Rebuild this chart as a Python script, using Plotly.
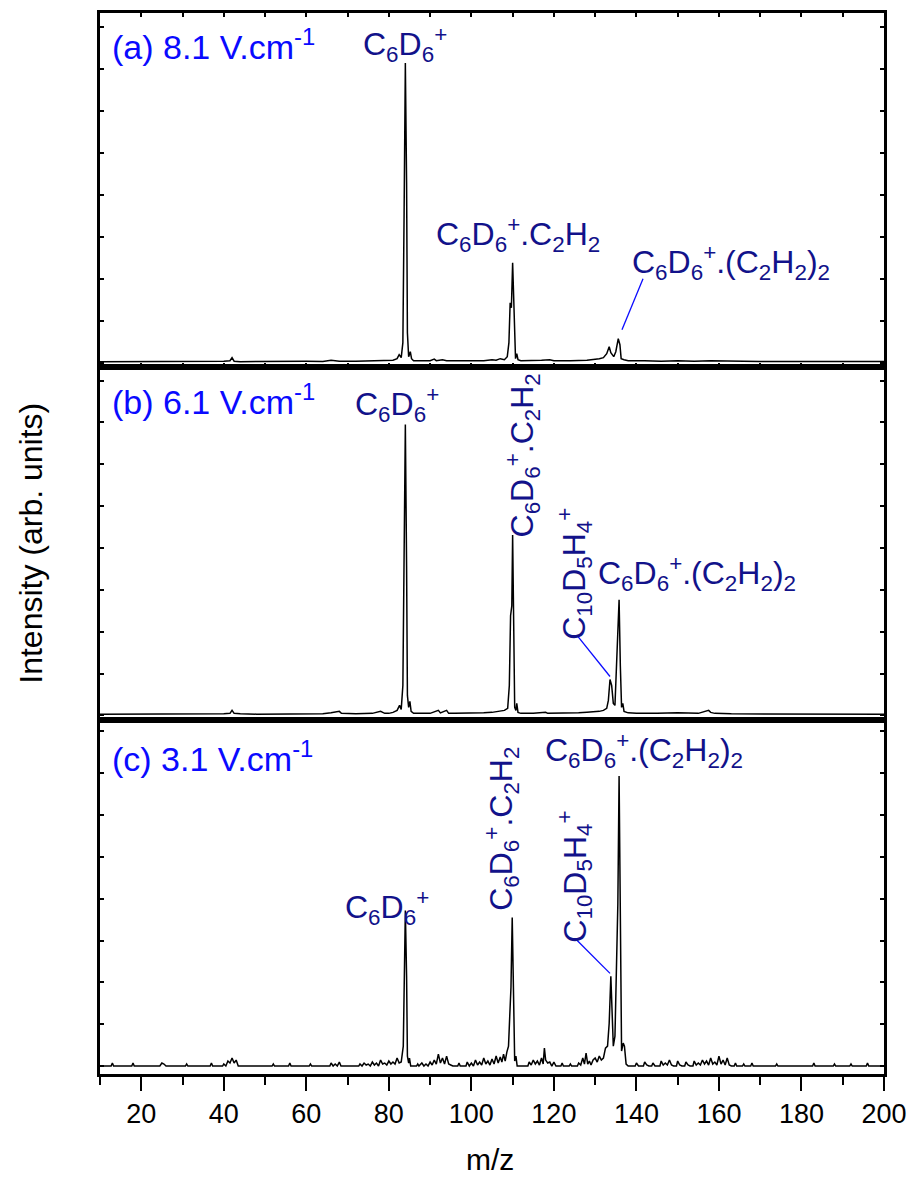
import plotly.graph_objects as go

# ---- spectra: m/z and intensity (arb. units) for the three field strengths ----
mz_a = [10, 14, 18, 22, 26, 30, 34, 38, 40, 41.5, 42, 42.5, 44, 48, 52, 56, 60, 64, 66, 67, 68,
        72, 76, 79, 81, 82, 82.5, 83, 83.4, 83.7, 84, 84.3, 84.5, 84.8, 85.2, 85.5, 86, 88, 90,
        91, 91.5, 93, 94, 96, 100, 103, 105, 106, 107, 108, 108.7, 109.1, 109.4, 109.7, 110,
        110.3, 110.5, 110.7, 111, 111.3, 112, 115, 117, 119, 120, 124, 128, 131, 132, 132.8,
        133.4, 133.8, 134.5, 135, 135.6, 136, 136.3, 137, 138, 142, 146, 150, 154, 158, 162,
        166, 170, 175, 180, 185, 190, 195, 200]
int_a = [1, 1, 1.2, 1, 1, 1.2, 1, 1.2, 1.5, 2, 5, 1.5, 1, 1.2, 1, 1.2, 1.3, 1.2, 2.5, 2, 1.5,
         1.5, 1.8, 2, 2.5, 4, 8, 5, 20, 150, 300, 180, 30, 6, 11, 4, 2, 1.8, 2,
         3.5, 2, 3, 2, 2, 1.8, 2, 3, 2.5, 4, 3, 6, 20, 60, 55, 100,
         60, 10, 4, 9, 3, 2, 2, 2.5, 3, 2, 2, 2.5, 4, 5, 9,
         16, 10, 6, 11, 24, 18, 4, 3, 2, 2, 1.5, 2, 1.5, 2, 1.5,
         1.5, 1.2, 1.2, 1.2, 1.2, 1.2, 1.2, 1.2]

mz_b = [10, 14, 18, 22, 26, 30, 34, 38, 40, 41.5, 42, 42.5, 44, 48, 52, 56, 60, 64, 66, 67, 68,
        68.5, 72, 76, 78, 79, 80, 81, 82, 82.6, 83, 83.4, 83.7, 84, 84.3, 84.5, 84.8, 85.1, 85.4,
        86, 88, 90, 92, 92.5, 94, 94.5, 96, 100, 103, 105, 107, 108, 108.8, 109.2, 109.5, 109.8,
        110, 110.3, 110.5, 110.8, 111, 111.3, 112, 115, 118, 118.5, 122, 126, 128, 130, 131,
        132, 132.8, 133.2, 133.6, 134, 134.4, 134.8, 135.2, 135.5, 135.8, 136.1, 136.4, 136.7,
        137, 138, 140, 145, 150, 155, 157.5, 158, 159, 163, 168, 172, 178, 185, 190, 195, 200]
int_b = [1, 1, 1.2, 1, 1, 1, 1.2, 1, 1.5, 2, 5, 2, 1.5, 1.2, 1.2, 1, 1.2, 1.5, 2.5, 3, 4,
         2, 1.5, 2, 4, 2, 2, 3, 5, 10, 6, 30, 200, 292, 150, 20, 8, 14, 4,
         2, 2, 2, 5, 2.5, 5, 2, 2, 2, 2.5, 3, 4, 5, 7, 30, 100, 110,
         181, 70, 8, 5, 12, 3, 2, 2, 3, 2, 2, 2.5, 3, 3.5, 4,
         5, 7, 15, 36, 30, 12, 10, 60, 86, 116, 50, 8, 12,
         4, 2.5, 2, 2, 2.5, 2, 5, 3, 2, 1.5, 1.5, 1.2, 1.2, 1.2, 1, 1, 1]

mz_c = [10, 12.7, 13, 13.3, 17.7, 18, 18.3, 24.5, 25, 25.5, 26, 30.7, 31, 31.3, 36.7, 37, 37.3,
        39.7, 40, 40.5, 41, 41.5, 42, 42.5, 43, 43.5, 51.7, 52, 52.3, 55.7, 56, 56.3, 60.7, 61,
        61.3, 65.7, 66, 66.5, 67, 67.5, 68, 68.4, 72.7, 73, 73.5, 74, 74.5, 75, 75.5, 76, 76.5,
        77, 77.5, 78, 78.5, 79, 79.5, 80, 80.5, 81, 81.5, 82, 82.5, 83, 83.5, 83.8, 84, 84.3,
        84.5, 84.8, 85, 85.3, 86.7, 87, 87.3, 88, 88.5, 89, 89.5, 90, 90.5, 91, 91.5, 92, 92.5,
        93, 93.5, 94, 94.5, 95, 95.5, 96.7, 97, 97.3, 98.7, 99, 99.5, 100, 100.5, 101, 101.5,
        102, 102.5, 103, 103.5, 104, 104.5, 105, 105.5, 106, 106.5, 107, 107.4, 107.8, 108.2,
        108.6, 109, 109.3, 109.6, 109.9, 110.2, 110.5, 110.8, 111.1, 113.7, 114, 114.5, 115,
        115.5, 116, 116.5, 117, 117.4, 117.7, 118, 118.5, 119, 119.5, 120, 120.5, 121.7, 122,
        122.3, 123.7, 124, 124.3, 125.7, 126, 126.5, 127, 127.4, 127.8, 128.2, 128.6, 129,
        129.5, 130, 130.5, 131, 131.5, 132, 132.5, 133, 133.4, 133.8, 134.1, 134.4, 134.8,
        135.1, 135.5, 135.8, 136.1, 136.4, 136.8, 137.1, 137.5, 138, 139.7, 140, 140.5, 141.7,
        142, 142.5, 143, 143.7, 144, 144.5, 145.7, 146, 146.5, 147, 147.5, 148, 148.5, 149,
        149.7, 150, 150.5, 151, 151.7, 152, 152.5, 153, 153.7, 154, 154.5, 155, 155.5, 156,
        156.5, 157, 157.5, 158, 158.5, 159, 159.5, 160, 160.5, 161, 161.5, 162, 162.5, 163,
        163.7, 164, 164.3, 165.7, 166, 166.3, 167.7, 168, 168.3, 173.7, 174, 174.3, 182.7, 183,
        183.3, 187.7, 188, 188.3, 191.7, 192, 192.3, 195.7, 196, 196.3, 200]
int_c = [0, 0, 3, 0, 0, 3, 0, 0, 3, 2, 0, 0, 2, 0, 0, 3, 0,
         0, 2, 0, 5, 3, 8, 3, 6, 0, 0, 2, 0, 0, 3, 0, 0, 2,
         0, 0, 3, 0, 2, 0, 4, 0, 0, 2, 0, 3, 1, 2, 0, 4, 1,
         3, 0, 6, 2, 3, 1, 5, 2, 4, 2, 8, 3, 4, 20, 100, 156, 90,
         10, 3, 8, 0, 0, 2, 0, 3, 0, 2, 0, 4, 1, 6, 2, 12, 3,
         8, 2, 10, 2, 1, 0, 0, 3, 0, 0, 4, 0, 3, 0, 6, 1,
         4, 1, 8, 2, 5, 1, 7, 2, 10, 3, 9, 4, 12, 5,
         14, 20, 50, 79, 149, 60, 5, 10, 0, 0, 4, 1, 6,
         2, 5, 1, 8, 2, 18, 6, 3, 4, 0, 4, 0, 0, 3,
         0, 0, 2, 0, 0, 3, 1, 8, 2, 13, 2, 5, 1,
         6, 8, 4, 10, 6, 8, 18, 20, 43, 90, 40, 20, 30,
         80, 163, 291, 100, 15, 23, 20, 2, 0, 0, 3, 0, 0,
         4, 1, 0, 0, 3, 0, 0, 5, 1, 3, 1, 6, 1, 0,
         0, 5, 1, 0, 0, 4, 1, 0, 0, 5, 1, 3, 1, 6,
         2, 5, 1, 8, 2, 4, 1, 10, 2, 6, 1, 8, 1, 0,
         0, 3, 0, 0, 2, 0, 0, 3, 0, 0, 2, 0, 0, 3,
         0, 0, 2, 0, 0, 2, 0, 0, 3, 0, 0]

FONT = "Liberation Sans, Arial, Helvetica, sans-serif"
NAVY = "#12128a"
BLUE = "#0a0aff"

fig = go.Figure()
for i, (mz, inten) in enumerate([(mz_a, int_a), (mz_b, int_b), (mz_c, int_c)]):
    ax = "" if i == 0 else str(i + 1)
    fig.add_trace(go.Scatter(x=mz, y=inten, mode="lines",
                             line=dict(color="black", width=1.5),
                             xaxis="x" + ax, yaxis="y" + ax, showlegend=False,
                             hoverinfo="skip"))

# panel labels: (text, panel, x, y, angle, colour, anchor, size)
labels = [
    ("(a) 8.1 V.cm<sup>-1</sup>", 1, 12.4, 318, 0, BLUE, "left", 34),
    ("C<sub>6</sub>D<sub>6</sub><sup>+</sup>", 1, 84.0, 318, 0, NAVY, "center", 32),
    ("C<sub>6</sub>D<sub>6</sub><sup>+</sup>.C<sub>2</sub>H<sub>2</sub>", 1, 111.3, 128, 0, NAVY, "center", 32),
    ("C<sub>6</sub>D<sub>6</sub><sup>+</sup>.(C<sub>2</sub>H<sub>2</sub>)<sub>2</sub>", 1, 163.0, 100, 0, NAVY, "center", 32),
    ("(b) 6.1 V.cm<sup>-1</sup>", 2, 12.4, 317, 0, BLUE, "left", 34),
    ("C<sub>6</sub>D<sub>6</sub><sup>+</sup>", 2, 82.0, 312, 0, NAVY, "center", 32),
    ("C<sub>6</sub>D<sub>6</sub><sup>+</sup>.C<sub>2</sub>H<sub>2</sub>", 2, 112.3, 261, -90, NAVY, "center", 32),
    ("C<sub>10</sub>D<sub>5</sub>H<sub>4</sub><sup>+</sup>", 2, 125.1, 142, -90, NAVY, "center", 32),
    ("C<sub>6</sub>D<sub>6</sub><sup>+</sup>.(C<sub>2</sub>H<sub>2</sub>)<sub>2</sub>", 2, 154.7, 142, 0, NAVY, "center", 32),
    ("(c) 3.1 V.cm<sup>-1</sup>", 3, 12.4, 311, 0, BLUE, "left", 34),
    ("C<sub>6</sub>D<sub>6</sub><sup>+</sup>", 3, 79.5, 159, 0, NAVY, "center", 32),
    ("C<sub>6</sub>D<sub>6</sub><sup>+</sup>.C<sub>2</sub>H<sub>2</sub>", 3, 107.4, 238, -90, NAVY, "center", 32),
    ("C<sub>10</sub>D<sub>5</sub>H<sub>4</sub><sup>+</sup>", 3, 125.1, 190, -90, NAVY, "center", 32),
    ("C<sub>6</sub>D<sub>6</sub><sup>+</sup>.(C<sub>2</sub>H<sub>2</sub>)<sub>2</sub>", 3, 141.8, 317, 0, NAVY, "center", 32),
]

# leader lines from labels to the small peaks: (panel, x0, y0, x1, y1)
leaders = [
    (1, 141.6, 84, 136.5, 33),
    (2, 125.85, 79, 133.6, 39),
    (3, 125.4, 127, 133.6, 93),
]

annotations = []
for text, p, x, y, ang, col, anchor, size in labels:
    ax = "" if p == 1 else str(p)
    annotations.append(dict(text=text, x=x, y=y, xref="x" + ax, yref="y" + ax,
                            showarrow=False, textangle=ang, xanchor=anchor,
                            yanchor="middle",
                            font=dict(family=FONT, size=size, color=col)))

annotations.append(dict(text="Intensity (arb. units)", x=-0.089, y=0.5, xref="paper",
                        yref="paper", textangle=-90, showarrow=False,
                        xanchor="center", yanchor="middle",
                        font=dict(family=FONT, size=32, color="black")))
annotations.append(dict(text="m/z", x=0.497, y=-0.081, xref="paper", yref="paper",
                        showarrow=False, xanchor="center", yanchor="middle",
                        font=dict(family=FONT, size=30, color="black")))

shapes = []
for p, x0, y0, x1, y1 in leaders:
    ax = "" if p == 1 else str(p)
    shapes.append(dict(type="line", xref="x" + ax, yref="y" + ax, x0=x0, y0=y0, x1=x1, y1=y1,
                       line=dict(color=BLUE, width=1.3)))

y_ranges = [[-4, 350], [-5, 350], [-8, 347]]
domains = [[2 / 3, 1], [1 / 3, 2 / 3], [0, 1 / 3]]

layout = dict(
    width=911, height=1184,
    margin=dict(l=100, r=27, t=10, b=110),
    paper_bgcolor="white", plot_bgcolor="white",
    annotations=annotations, shapes=shapes,
    font=dict(family=FONT, color="black"),
)

for i in range(3):
    ax = "" if i == 0 else str(i + 1)
    yax = dict(domain=domains[i], range=y_ranges[i], showline=True, linewidth=2.5,
               linecolor="black", mirror="ticks", ticks="inside", ticklen=4, tickwidth=1.5,
               tickcolor="black", tick0=0, dtick=42, showticklabels=False,
               showgrid=False, zeroline=False, anchor="x" + ax)
    if i < 2:
        xax = dict(range=[10, 200], showline=True, linewidth=2.5, linecolor="black",
                   mirror="ticks", ticks="inside", ticklen=4, tickwidth=1.5,
                   tickcolor="black", tick0=0, dtick=10, showticklabels=False,
                   showgrid=False, zeroline=False, anchor="y" + ax)
    else:
        xax = dict(range=[10, 200], showline=True, linewidth=2.5, linecolor="black",
                   mirror=True, ticks="outside", ticklen=14, tickwidth=2,
                   tickcolor="black", tick0=0, dtick=20, showticklabels=True,
                   tickfont=dict(family=FONT, size=27, color="black"),
                   ticklabelstandoff=0, ticklabeloverflow="allow", automargin=False,
                   minor=dict(ticks="outside", ticklen=8, tickwidth=2, dtick=10,
                              tick0=0, tickcolor="black"),
                   showgrid=False, zeroline=False, anchor="y" + ax)
    layout["xaxis" + ax] = xax
    layout["yaxis" + ax] = yax

fig.update_layout(**layout)
fig.write_html("out.html")
